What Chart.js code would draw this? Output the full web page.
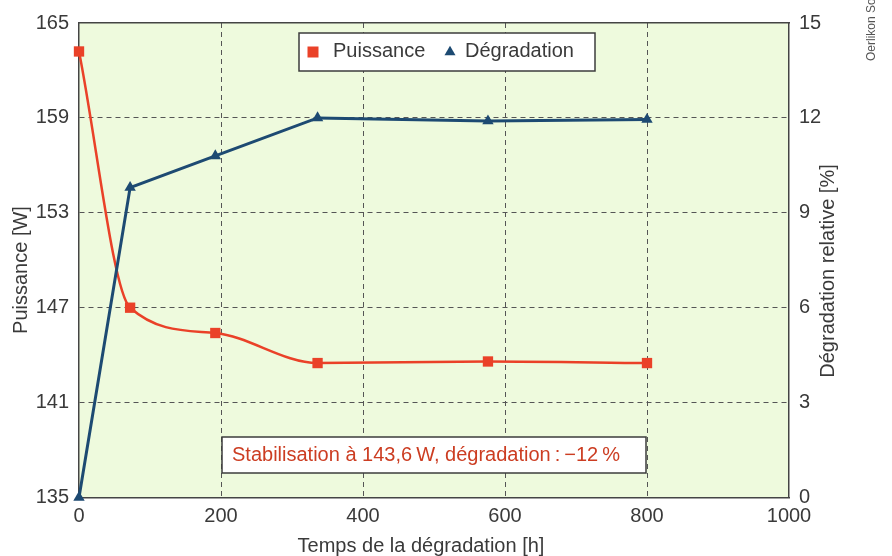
<!DOCTYPE html>
<html>
<head>
<meta charset="utf-8">
<script src="https://cdn.jsdelivr.net/npm/chart.js@4/dist/chart.umd.min.js"></script>
<style>
html,body{margin:0;padding:0;background:#ffffff;}
#wrap{width:892px;height:556px;position:relative;}
</style>
</head>
<body>
<div id="wrap"><canvas id="c" width="892" height="556"></canvas></div>
<script>
// ---- data ----
const hours = [0, 72, 192, 336, 576, 800];
const puissance = [163.2, 147.0, 145.4, 143.5, 143.6, 143.5];
const degradation = [0, 9.8, 10.8, 12.0, 11.9, 11.95];
const xTicks = [0, 200, 400, 600, 800, 1000];
const leftTicks = [135, 141, 147, 153, 159, 165];
const rightTicks = [0, 3, 6, 9, 12, 15];
const seriesNames = ['Puissance', 'Dégradation'];
const xTitle = 'Temps de la dégradation [h]';
const leftTitle = 'Puissance [W]';
const rightTitle = 'Dégradation relative [%]';
const noteText = 'Stabilisation à 143,6\u2009W, dégradation\u2009:\u2009\u221212\u2009%';
const creditText = 'Oerlikon Solar';

const RED = '#ea4128';
const BLUE = '#1d4a72';
const TXT = '#3a3a3a';
const FONT = "'Liberation Sans', Arial, sans-serif";

function drawMarker(ctx, style, x, y, s, color) {
  ctx.save();
  ctx.fillStyle = color;
  ctx.beginPath();
  if (style === 'rect') {
    ctx.rect(x - s / 2, y - s / 2, s, s);
  } else {
    const r = s / Math.sqrt(3);
    ctx.moveTo(x, y - r);
    ctx.lineTo(x + s / 2, y + r / 2);
    ctx.lineTo(x - s / 2, y + r / 2);
    ctx.closePath();
  }
  ctx.fill();
  ctx.restore();
}

const decor = {
  id: 'decor',
  beforeDraw(chart) {
    const {ctx, chartArea: a} = chart;
    ctx.save();
    ctx.fillStyle = '#eefadd';
    ctx.fillRect(a.left, a.top, a.right - a.left, a.bottom - a.top);
    ctx.restore();
  },
  afterDraw(chart) {
    const ctx = chart.ctx;
    ctx.save();
    // legend box
    ctx.fillStyle = '#ffffff';
    ctx.strokeStyle = '#3c3c3c';
    ctx.lineWidth = 1.5;
    ctx.fillRect(299, 33, 296, 38);
    ctx.strokeRect(299, 33, 296, 38);
    ctx.font = '20px ' + FONT;
    ctx.textBaseline = 'middle';
    ctx.textAlign = 'left';
    const ds = chart.data.datasets;
    const itemX = [[313, 333], [450, 465]];
    ds.forEach((d, i) => {
      drawMarker(ctx, d.pointStyle, itemX[i][0], 52, 11, d.backgroundColor);
      ctx.fillStyle = TXT;
      ctx.fillText(d.label, itemX[i][1], 51);
    });
    // note box
    ctx.fillStyle = '#ffffff';
    ctx.fillRect(222, 437, 424, 36);
    ctx.strokeRect(222, 437, 424, 36);
    ctx.fillStyle = '#cc3d22';
    ctx.textAlign = 'left';
    ctx.fillText(noteText, 232, 455);
    // axis titles
    ctx.fillStyle = TXT;
    ctx.textAlign = 'center';
    ctx.fillText(xTitle, 421, 546);
    ctx.save();
    ctx.translate(21, 270);
    ctx.rotate(-Math.PI / 2);
    ctx.fillText(leftTitle, 0, 0);
    ctx.restore();
    ctx.save();
    ctx.translate(828, 271);
    ctx.rotate(-Math.PI / 2);
    ctx.fillText(rightTitle, 0, 0);
    ctx.restore();
    ctx.restore();
    // credit
    ctx.save();
    ctx.fillStyle = '#555555';
    ctx.font = '12px ' + FONT;
    ctx.translate(872, 61);
    ctx.rotate(-Math.PI / 2);
    ctx.textAlign = 'left';
    ctx.textBaseline = 'middle';
    ctx.fillText(creditText, 0, 0);
    ctx.restore();
  }
};

const gridColor = (edgeVals) => ctx =>
  (ctx.tick && edgeVals.includes(ctx.tick.value)) ? 'rgba(0,0,0,0)' : '#555555';

new Chart(document.getElementById('c'), {
  type: 'line',
  data: {
    datasets: [
      {
        label: seriesNames[0],
        data: hours.map((h, i) => ({x: h, y: puissance[i]})),
        yAxisID: 'y',
        borderColor: RED,
        backgroundColor: RED,
        borderWidth: 2.5,
        pointStyle: 'rect',
        pointRadius: 7.3,
        pointBorderWidth: 0,
        cubicInterpolationMode: 'monotone',
        clip: false,
        order: 2
      },
      {
        label: seriesNames[1],
        data: hours.map((h, i) => ({x: h, y: degradation[i]})),
        yAxisID: 'y1',
        borderColor: BLUE,
        backgroundColor: BLUE,
        borderWidth: 3,
        pointStyle: 'triangle',
        pointRadius: 6.6,
        pointBorderWidth: 0,
        tension: 0,
        clip: false,
        order: 1
      }
    ]
  },
  options: {
    responsive: false,
    animation: false,
    devicePixelRatio: 1,
    layout: {padding: {top: 23, left: 0, right: 0, bottom: 0}},
    plugins: {legend: {display: false}, tooltip: {enabled: false}},
    scales: {
      x: {
        type: 'linear',
        min: 0, max: 1000,
        afterBuildTicks: s => { s.ticks = xTicks.map(v => ({value: v})); },
        afterFit: s => { s.height = 58.5; },
        border: {display: true, color: '#444444', width: 1.5, dash: [5, 4]},
        grid: {color: gridColor([0, 1000]), lineWidth: 1, drawTicks: false},
        ticks: {color: TXT, font: {family: FONT, size: 20}, padding: 7, maxRotation: 0, callback: v => String(v)},
        title: {display: false}
      },
      y: {
        position: 'left',
        min: 135, max: 165,
        afterBuildTicks: s => { s.ticks = leftTicks.map(v => ({value: v})); },
        afterFit: s => { s.width = 79; },
        border: {display: true, color: '#444444', width: 1.5, dash: [5, 4]},
        grid: {color: gridColor([135, 165]), lineWidth: 1, drawTicks: false},
        ticks: {color: TXT, font: {family: FONT, size: 20}, padding: 10, callback: v => String(v)},
        title: {display: false}
      },
      y1: {
        position: 'right',
        min: 0, max: 15,
        afterBuildTicks: s => { s.ticks = rightTicks.map(v => ({value: v})); },
        afterFit: s => { s.width = 103; },
        border: {display: true, color: '#444444', width: 1.5},
        grid: {display: false, drawOnChartArea: false, drawTicks: false},
        ticks: {color: TXT, font: {family: FONT, size: 20}, padding: 10, callback: v => String(v)},
        title: {display: false}
      },
      xTop: {
        position: 'top',
        type: 'linear',
        min: 0, max: 1000,
        afterFit: s => { s.height = 0; },
        border: {display: true, color: '#444444', width: 1.5},
        grid: {display: false, drawTicks: false},
        ticks: {display: false}
      }
    }
  },
  plugins: [decor]
});
</script>
</body>
</html>
